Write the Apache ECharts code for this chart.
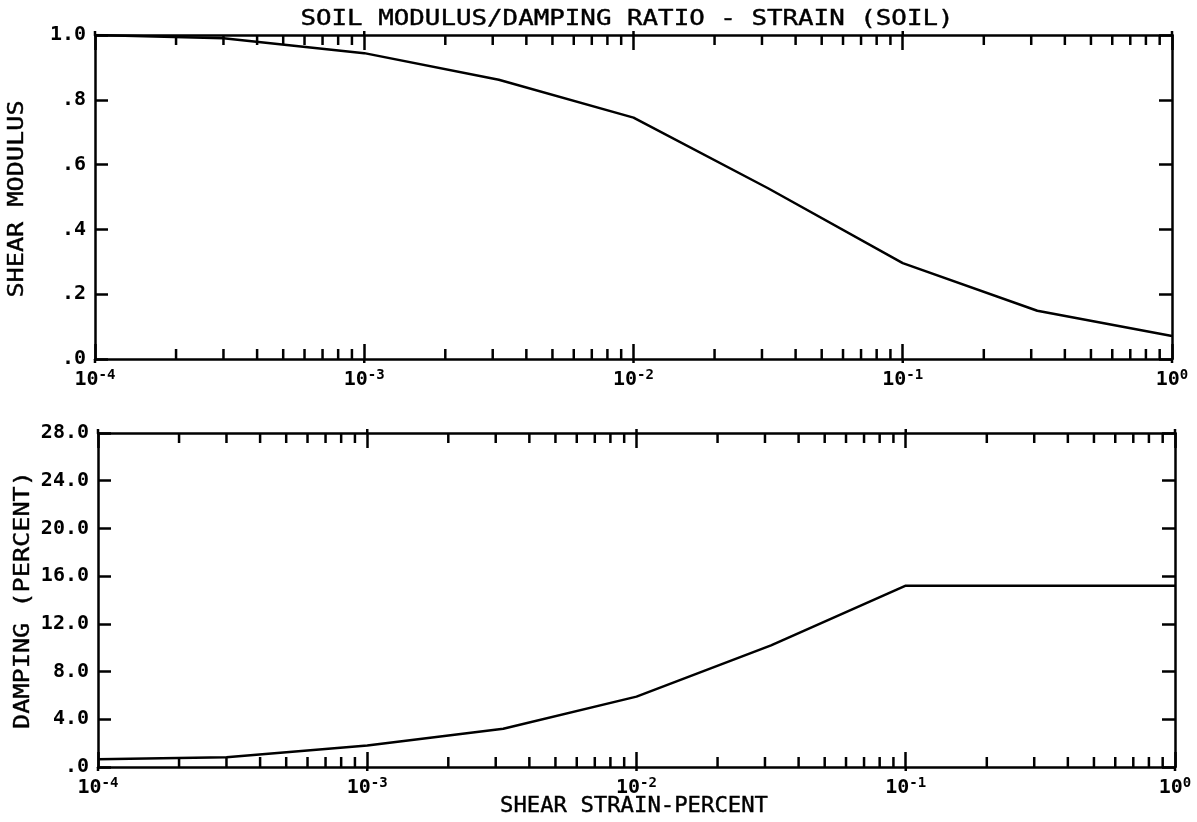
<!DOCTYPE html>
<html><head><meta charset="utf-8">
<script src="https://cdn.jsdelivr.net/npm/echarts@6/dist/echarts.min.js"></script>
<style>html,body{margin:0;padding:0;background:#fff}#c{width:1197px;height:822px}</style>
</head><body><div id="c"></div>
<script>
// ---- data ----
const strainModulus = [1e-4, 3e-4, 1e-3, 3.16e-3, 1e-2, 3.16e-2, 1e-1, 3.16e-1, 1];
const shearModulus  = [1.0, 0.99, 0.944, 0.862, 0.745, 0.527, 0.296, 0.149, 0.071];
const strainDamping = [1e-4, 3e-4, 1e-3, 3.2e-3, 1e-2, 3.16e-2, 1e-1, 1];
const dampingPct    = [0.65, 0.82, 1.8, 3.2, 5.9, 10.2, 15.2, 15.2];
const modulusTickLabels = ['.0', '.2', '.4', '.6', '.8', '1.0'];
const dampingTickLabels = ['.0', '4.0', '8.0', '12.0', '16.0', '20.0', '24.0', '28.0'];
const strainExponents = ['-4', '-3', '-2', '-1', '0'];
const majorStrains = [1e-4, 1e-3, 1e-2, 1e-1, 1];
const minorStrains = [2e-4,3e-4,4e-4,5e-4,6e-4,7e-4,8e-4,9e-4,
                      2e-3,3e-3,4e-3,5e-3,6e-3,7e-3,8e-3,9e-3,
                      2e-2,3e-2,4e-2,5e-2,6e-2,7e-2,8e-2,9e-2,
                      0.2,0.3,0.4,0.5,0.6,0.7,0.8,0.9];
const titleText = 'SOIL MODULUS/DAMPING RATIO - STRAIN (SOIL)';

const FONT = '"DejaVu Sans Mono", "Liberation Mono", monospace';
const BLACK = '#000';

function xAxisDef(gridIndex, position, showLabel) {
  return {
    type: 'log', logBase: 10, min: 1e-4, max: 1, gridIndex, position,
    axisLine: { show: true, onZero: false, lineStyle: { color: BLACK, width: 2.5 } },
    axisTick: { show: true, inside: true, length: 15, lineStyle: { color: BLACK, width: 2.5 } },
    splitLine: { show: false },
    axisLabel: {
      show: showLabel, margin: 9,
      formatter: v => '{b|10}{s|' + strainExponents[Math.round(Math.log10(v)) + 4] + '}',
      rich: {
        b: { fontFamily: FONT, fontSize: 20, fontWeight: 'bold', color: BLACK, lineHeight: 22, verticalAlign: 'bottom' },
        s: { fontFamily: FONT, fontSize: 14, fontWeight: 'bold', color: BLACK, lineHeight: 12, verticalAlign: 'top' }
      }
    }
  };
}
function yAxisDef(gridIndex, position, max, interval, labels, showLabel) {
  return {
    type: 'value', min: 0, max, interval, gridIndex, position,
    axisLine: { show: true, onZero: false, lineStyle: { color: BLACK, width: 2.5 } },
    axisTick: { show: true, inside: true, length: 13, lineStyle: { color: BLACK, width: 2.5 } },
    splitLine: { show: false },
    axisLabel: {
      show: showLabel, margin: 9,
      fontFamily: FONT, fontSize: 20, fontWeight: 'bold', color: BLACK,
      formatter: v => labels[Math.round(v / interval)]
    }
  };
}
// extra tick marks drawn through the axis scale (minor ticks inside, decade stubs outside)
function tickMarks(xi, yi, values, len, outward) {
  return {
    type: 'custom', xAxisIndex: xi, yAxisIndex: yi, silent: true, z: 5,
    data: values.map(v => [v, 0]),
    renderItem(params, api) {
      const cs = params.coordSys;
      const x = api.coord([api.value(0), api.value(1)])[0];
      const st = { stroke: BLACK, lineWidth: 2.5 };
      const top = cs.y, bot = cs.y + cs.height;
      const d = outward ? -len : len;
      return { type: 'group', children: [
        { type: 'line', shape: { x1: x, y1: top, x2: x, y2: top + d }, style: st },
        { type: 'line', shape: { x1: x, y1: bot, x2: x, y2: bot - d }, style: st }
      ]};
    }
  };
}
function txt(text, x, y, sx, rot, size) {
  return {
    type: 'text', x, y, rotation: rot || 0, scaleX: sx, scaleY: 1,
    style: { text, font: 'normal ' + (size || 21) + 'px ' + FONT, fill: BLACK, textAlign: 'center', textVerticalAlign: 'middle',
             stroke: BLACK, lineWidth: 0.4 }
  };
}

const chart = echarts.init(document.getElementById('c'), null, { renderer: 'canvas' });
chart.setOption({
  animation: false,
  backgroundColor: '#fff',
  grid: [
    { left: 95, top: 35, width: 1077, height: 324 },
    { left: 98, top: 433, width: 1077, height: 334 }
  ],
  xAxis: [
    xAxisDef(0, 'bottom', true),
    xAxisDef(0, 'top', false),
    xAxisDef(1, 'bottom', true),
    xAxisDef(1, 'top', false)
  ],
  yAxis: [
    yAxisDef(0, 'left', 1, 0.2, modulusTickLabels, true),
    yAxisDef(0, 'right', 1, 0.2, modulusTickLabels, false),
    yAxisDef(1, 'left', 28, 4, dampingTickLabels, true),
    yAxisDef(1, 'right', 28, 4, dampingTickLabels, false)
  ],
  graphic: [
    txt(titleText, 627, 20, 1.23),
    txt('SHEAR MODULUS', 18, 199, 1.2, Math.PI / 2),
    txt('DAMPING (PERCENT)', 24, 600, 1.2, Math.PI / 2),
    txt('SHEAR STRAIN-PERCENT', 634, 807, 1.06)
  ],
  series: [
    {
      type: 'line', xAxisIndex: 0, yAxisIndex: 0, symbol: 'none',
      lineStyle: { color: BLACK, width: 2.5 },
      data: strainModulus.map((s, i) => [s, shearModulus[i]])
    },
    {
      type: 'line', xAxisIndex: 2, yAxisIndex: 2, symbol: 'none',
      lineStyle: { color: BLACK, width: 2.5 },
      data: strainDamping.map((s, i) => [s, dampingPct[i]])
    },
    tickMarks(0, 0, minorStrains, 10, false),
    tickMarks(2, 2, minorStrains, 10, false),
    tickMarks(0, 0, majorStrains, 4, true),
    tickMarks(2, 2, majorStrains, 4, true)
  ]
});
</script>
</body></html>
